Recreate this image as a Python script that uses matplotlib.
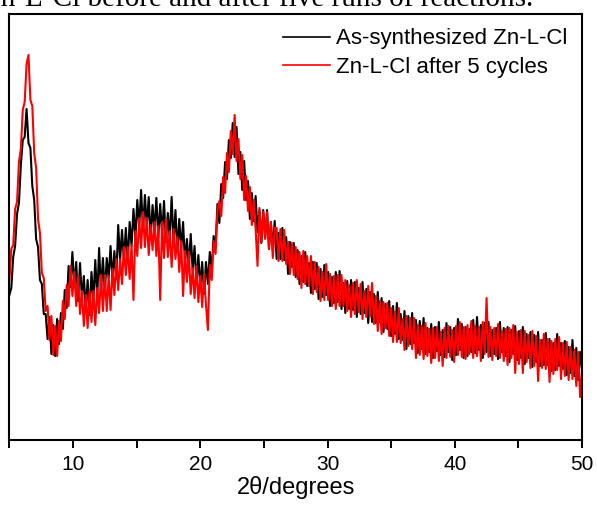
import numpy as np
import matplotlib
matplotlib.use("Agg")
import matplotlib.pyplot as plt

# 2-theta scan grid (degrees), 0.15 deg step from 5 to 50
two_theta = np.linspace(5.0, 50.0, 301)

# Intensity (arbitrary units)
as_synthesized = [
    145, 152, 183, 194, 226, 237, 275, 300, 303, 331,
    297, 292, 254, 240, 201, 193, 160, 156, 126, 126,
    101, 123, 86, 115, 84, 121, 96, 127, 111, 150,
    132, 174, 153, 188, 153, 178, 139, 177, 141, 164,
    130, 160, 125, 168, 141, 180, 141, 192, 149, 182,
    147, 182, 162, 194, 159, 189, 161, 215, 180, 210,
    179, 212, 178, 218, 194, 231, 201, 240, 213, 250,
    210, 245, 213, 243, 201, 235, 210, 242, 202, 236,
    205, 239, 198, 227, 202, 243, 197, 230, 188, 221,
    190, 218, 177, 201, 173, 206, 170, 194, 156, 185,
    153, 178, 146, 178, 156, 188, 169, 204, 192, 236,
    217, 256, 242, 278, 261, 300, 282, 317, 283, 313,
    266, 288, 250, 279, 240, 259, 221, 247, 219, 244,
    208, 230, 197, 230, 202, 230, 191, 218, 190, 219,
    181, 207, 181, 212, 180, 203, 166, 198, 173, 197,
    163, 190, 156, 184, 158, 188, 154, 177, 147, 178,
    151, 177, 141, 171, 143, 175, 145, 168, 134, 163,
    137, 168, 138, 169, 131, 157, 127, 159, 131, 160,
    130, 158, 123, 152, 126, 158, 127, 151, 117, 148,
    118, 146, 117, 148, 118, 142, 108, 136, 111, 139,
    104, 134, 106, 137, 101, 126, 100, 129, 91, 124,
    96, 127, 97, 120, 87, 119, 91, 122, 86, 112,
    88, 116, 82, 113, 89, 118, 85, 110, 83, 117,
    88, 113, 80, 112, 85, 121, 90, 116, 82, 113,
    84, 111, 88, 120, 87, 123, 90, 115, 82, 117,
    88, 118, 84, 110, 86, 112, 81, 118, 88, 112,
    84, 113, 78, 110, 86, 114, 80, 109, 82, 113,
    76, 106, 82, 108, 73, 105, 78, 108, 74, 100,
    75, 107, 75, 101, 69, 97, 70, 106, 74, 97,
    71, 99, 65, 93, 67, 100, 64, 92, 60, 88,
    70,
]

after_5_cycles = [
    160, 191, 195, 231, 238, 278, 291, 330, 338, 376,
    385, 340, 334, 287, 272, 221, 207, 167, 162, 129,
    134, 100, 124, 85, 114, 84, 119, 99, 139, 121,
    155, 134, 174, 144, 168, 134, 164, 126, 149, 114,
    145, 112, 149, 118, 149, 115, 152, 127, 165, 129,
    165, 129, 164, 130, 171, 145, 181, 150, 181, 156,
    193, 165, 193, 161, 195, 140, 209, 184, 222, 192,
    228, 193, 222, 185, 215, 190, 218, 184, 214, 140,
    218, 182, 221, 183, 209, 173, 211, 181, 203, 168,
    199, 144, 189, 158, 188, 146, 172, 142, 174, 138,
    164, 133, 166, 135, 110, 175, 160, 199, 186, 229,
    239, 224, 263, 247, 287, 268, 309, 286, 325, 279,
    301, 261, 285, 240, 264, 229, 253, 215, 240, 211,
    174, 232, 198, 228, 201, 228, 191, 218, 182, 212,
    212, 179, 211, 179, 210, 176, 198, 166, 197, 165,
    193, 161, 188, 152, 189, 156, 184, 154, 184, 146,
    178, 148, 173, 139, 168, 140, 176, 140, 166, 134,
    164, 131, 165, 134, 165, 134, 160, 129, 155, 123,
    157, 126, 160, 128, 156, 121, 149, 123, 154, 124,
    157, 116, 144, 109, 139, 106, 138, 112, 137, 104,
    132, 98, 128, 98, 132, 97, 121, 90, 124, 94,
    122, 91, 122, 82, 115, 85, 114, 81, 117, 84,
    111, 77, 112, 82, 113, 79, 108, 74, 112, 82,
    114, 83, 110, 78, 114, 85, 118, 83, 113, 81,
    115, 86, 119, 82, 114, 84, 113, 79, 118, 86,
    142, 83, 113, 80, 112, 84, 116, 82, 109, 79,
    111, 75, 112, 82, 115, 67, 108, 76, 110, 67,
    109, 78, 105, 72, 109, 74, 104, 59, 100, 72,
    106, 71, 101, 58, 99, 66, 101, 70, 103, 61,
    97, 64, 98, 60, 93, 61, 90, 54, 88, 43,
    68,
]

series_labels = ["As-synthesized Zn-L-Cl", "Zn-L-Cl after 5 cycles"]
x_ticks = [10, 20, 30, 40, 50]
x_minor_ticks = [5, 15, 25, 35, 45]
caption = "Zn-L-Cl before and after five runs of reactions."

plt.rcParams['font.family'] = ['Liberation Sans', 'DejaVu Sans']

fig = plt.figure(figsize=(5.97, 5.07), dpi=100)
ax = fig.add_axes([9.4 / 597, (507 - 440) / 507, (582 - 9.4) / 597, (440 - 14) / 507])

ax.plot(two_theta, as_synthesized, color='black', lw=1.5, label=series_labels[0])
ax.plot(two_theta, after_5_cycles, color='#ff0000', lw=1.5, label=series_labels[1])

ax.set_xlim(5, 50)
ax.set_ylim(0, 426)
ax.set_xticks(x_ticks)
ax.set_xticks(x_minor_ticks, minor=True)
ax.set_yticks([])
ax.tick_params(axis='x', which='major', direction='out', length=6, width=1.4, labelsize=15, pad=5)
ax.tick_params(axis='x', which='minor', direction='out', length=5.5, width=1.4)
for s in ax.spines.values():
    s.set_linewidth(1.5)
ax.set_xlabel("2\u03b8/degrees", fontsize=17, labelpad=1)

leg = ax.legend(loc='upper right', frameon=False, fontsize=16, handlelength=2.1,
                handletextpad=0.3, borderaxespad=0.25, labelspacing=0.35)
for line in leg.get_lines():
    line.set_linewidth(1.2)

fig.text(-17 / 597, 1.0 - 6 / 507, caption, family='Liberation Serif', fontsize=21,
         ha='left', va='baseline')

fig.savefig("out.png", dpi=100)
